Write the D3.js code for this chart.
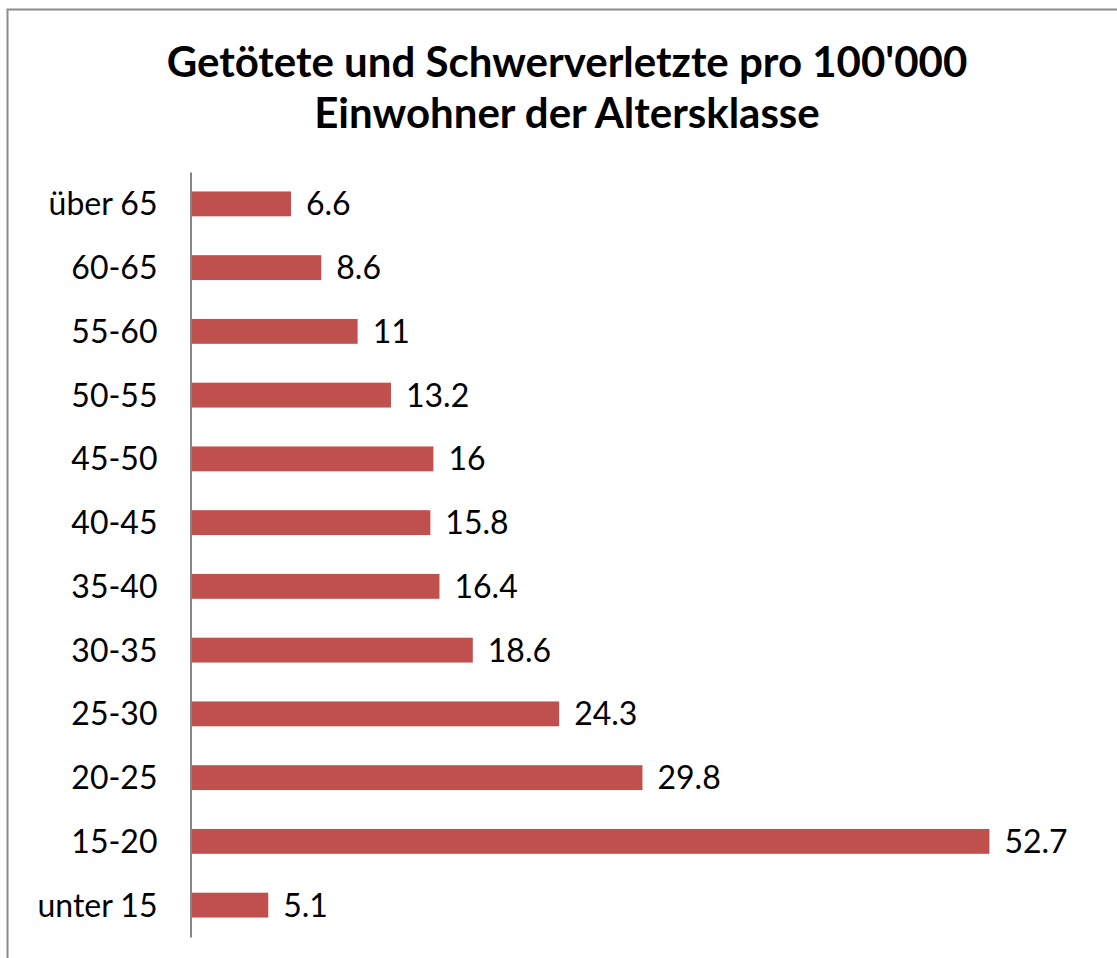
<!DOCTYPE html>
<html>
<head>
<meta charset="utf-8">
<script src="https://cdn.jsdelivr.net/npm/d3@7"></script>
<style>
  html, body { margin: 0; padding: 0; background: #fff; }
  svg { display: block; font-family: Lato, "Open Sans", sans-serif; }
</style>
</head>
<body>
<svg id="chart" width="1117" height="958"></svg>
<script>
(function () {
    // Données : classes d'âge (de haut en bas) et valeurs
    var categories = ["über 65", "60-65", "55-60", "50-55", "45-50", "40-45",
                      "35-40", "30-35", "25-30", "20-25", "15-20", "unter 15"];
    var valeurs = [6.6, 8.6, 11, 13.2, 16, 15.8, 16.4, 18.6, 24.3, 29.8, 52.7, 5.1];
    var libellesValeurs = ["6.6", "8.6", "11", "13.2", "16", "15.8", "16.4", "18.6", "24.3", "29.8", "52.7", "5.1"];
    var titre = ["Getötete und Schwerverletzte pro 100'000", "Einwohner der Altersklasse"];

    var donnees = categories.map(function (c, i) {
        return { cat: c, val: valeurs[i], lib: libellesValeurs[i] };
    });

    var svg = d3.select("#chart");

    // Cadre du graphique
    svg.append("rect")
        .attr("x", 7.5).attr("y", 9.5)
        .attr("width", 1130).attr("height", 970)
        .attr("fill", "#fff")
        .attr("stroke", "#8c8c8c")
        .attr("stroke-width", 2);

    // Titre
    svg.append("text")
        .attr("text-anchor", "middle")
        .attr("font-weight", "bold")
        .attr("font-size", 42)
        .attr("fill", "#000")
        .selectAll("tspan")
        .data(titre)
        .join("tspan")
        .attr("x", 567)
        .attr("y", function (d, i) { return 77 + i * 51; })
        .text(function (d) { return d; });

    // Zone de dessin
    var x0 = 191, yTop = 172, yBas = 937;

    var x = d3.scaleLinear()
        .domain([0, 60])
        .range([x0, x0 + 60 * 15.15]);

    var y = d3.scaleBand()
        .domain(categories)
        .range([yTop, yBas])
        .paddingInner(0.61)
        .paddingOuter(0.305);

    // Barres
    svg.append("g")
        .selectAll("rect")
        .data(donnees)
        .join("rect")
        .attr("x", x(0))
        .attr("y", function (d) { return y(d.cat); })
        .attr("width", function (d) { return x(d.val) - x(0); })
        .attr("height", y.bandwidth())
        .attr("fill", "#c0504d");

    // Étiquettes de valeurs
    svg.append("g")
        .selectAll("text")
        .data(donnees)
        .join("text")
        .attr("x", function (d) { return x(d.val) + 15; })
        .attr("y", function (d) { return y(d.cat) + y.bandwidth() / 2; })
        .attr("dy", "0.36em")
        .attr("font-size", 32)
        .attr("fill", "#000")
        .text(function (d) { return d.lib; });

    // Axe vertical
    var axe = svg.append("g")
        .attr("transform", "translate(" + (x0 - 0.5) + ",0)")
        .call(d3.axisLeft(y).tickSize(0).tickPadding(33));
    axe.select(".domain")
        .attr("stroke", "#868686")
        .attr("stroke-width", 2);
    axe.selectAll("text")
        .attr("font-family", "Lato, 'Open Sans', sans-serif")
        .attr("font-size", 32)
        .attr("fill", "#000")
        .attr("dy", "0.36em");
})();
</script>
</body>
</html>
